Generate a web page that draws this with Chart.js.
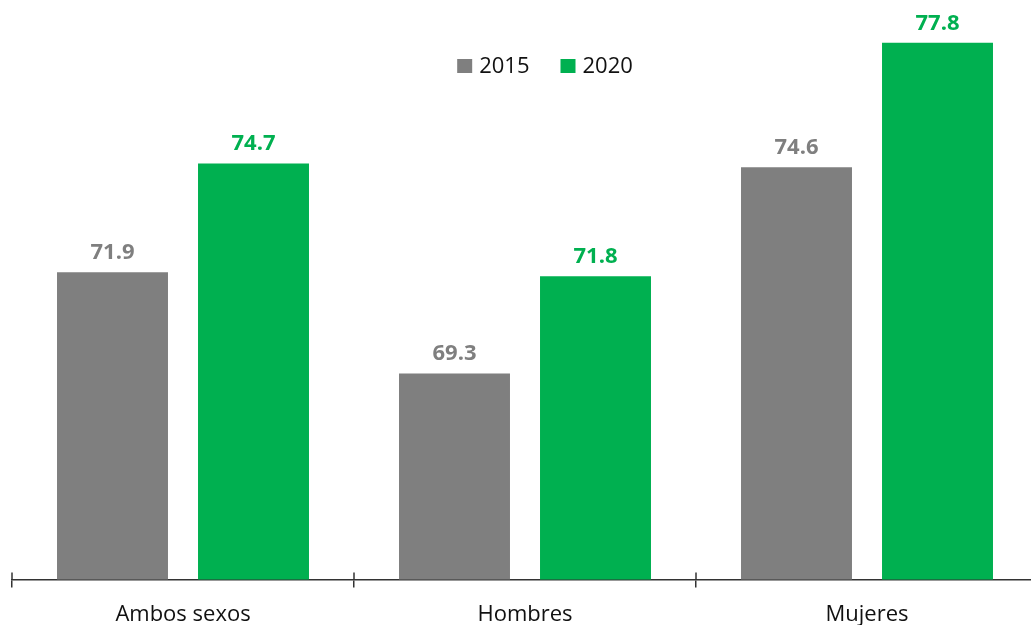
<!DOCTYPE html>
<html>
<head>
<meta charset="utf-8">
<script src="https://cdn.jsdelivr.net/npm/chart.js@4"></script>
<style>
html, body { margin: 0; padding: 0; background: #fff; overflow: hidden; }
#wrap { position: absolute; left: 0; top: 0; width: 1040px; height: 645px; }
</style>
</head>
<body>
<div id="wrap"><canvas id="myChart"></canvas></div>
<script>
// data
var categories = ["Ambos sexos", "Hombres", "Mujeres"];
var seriesNames = ["2015", "2020"];
var values2015 = [71.9, 69.3, 74.6];
var values2020 = [74.7, 71.8, 77.8];
var barColors = ["#7f7f7f", "#00b050"];
var yMin = 64;
var yMax = 78.9;

// value labels above the bars
var valueLabels = {
    id: 'valueLabels',
    afterDatasetsDraw(chart) {
        var ctx = chart.ctx;
        ctx.save();
        ctx.font = 'bold 22px "Open Sans"';
        ctx.textAlign = 'center';
        ctx.textBaseline = 'alphabetic';
        chart.data.datasets.forEach((ds, i) => {
            ctx.fillStyle = ds.backgroundColor;
            chart.getDatasetMeta(i).data.forEach((bar, j) => {
                ctx.fillText(ds.data[j].toFixed(1), bar.x, bar.y - 13);
            });
        });
        ctx.restore();
    }
};

// legend drawn inside the plot, above the middle group
var insideLegend = {
    id: 'insideLegend',
    afterDraw(chart) {
        var ctx = chart.ctx;
        var area = chart.chartArea;
        ctx.save();
        ctx.font = '22px "Open Sans"';
        ctx.textBaseline = 'middle';
        ctx.textAlign = 'left';
        var box = 15, gapText = 7, gapItem = 31;
        var sets = chart.data.datasets;
        var widths = sets.map(d => ctx.measureText(d.label).width);
        var total = 0;
        widths.forEach((w, i) => { total += box + gapText + w + (i < widths.length - 1 ? gapItem : 0); });
        var x = (area.left + area.right) / 2 + 20 - total / 2;
        var y = 67;
        sets.forEach((d, i) => {
            ctx.fillStyle = d.backgroundColor;
            ctx.fillRect(x, y - 8, box, 14);
            ctx.fillStyle = '#111';
            ctx.fillText(d.label, x + box + gapText, y);
            x += box + gapText + widths[i] + gapItem;
        });
        ctx.restore();
    }
};

// little tick marks that cross the axis line
var tickCross = {
    id: 'tickCross',
    afterDraw(chart) {
        var sx = chart.scales.x, ctx = chart.ctx, b = chart.chartArea.bottom;
        ctx.save();
        ctx.strokeStyle = '#333';
        ctx.lineWidth = 1.5;
        for (var i = 0; i <= categories.length; i++) {
            var px = sx.getPixelForValue(i - 0.5);
            ctx.beginPath();
            ctx.moveTo(px, b - 7);
            ctx.lineTo(px, b);
            ctx.stroke();
        }
        ctx.restore();
    }
};

new Chart("myChart", {
    type: "bar",
    data: {
        labels: categories,
        datasets: [
            { label: seriesNames[0], data: values2015, backgroundColor: barColors[0] },
            { label: seriesNames[1], data: values2020, backgroundColor: barColors[1] }
        ]
    },
    options: {
        responsive: true,
        maintainAspectRatio: false,
        animation: false,
        datasets: {
            bar: { categoryPercentage: 0.8246, barPercentage: 0.787 }
        },
        layout: { padding: { left: 12, right: 2, top: 0, bottom: 3 } },
        plugins: {
            legend: { display: false },
            tooltip: { enabled: false }
        },
        scales: {
            x: {
                grid: {
                    display: true,
                    drawOnChartArea: false,
                    offset: true,
                    tickLength: 8,
                    color: '#333',
                    lineWidth: 1.5
                },
                border: { color: '#333', width: 1.5 },
                ticks: {
                    color: '#111',
                    padding: 14,
                    font: { family: '"Open Sans"', size: 22, lineHeight: 1.2 }
                }
            },
            y: {
                display: false,
                min: yMin,
                max: yMax
            }
        }
    },
    plugins: [valueLabels, insideLegend, tickCross]
});
</script>
</body>
</html>
